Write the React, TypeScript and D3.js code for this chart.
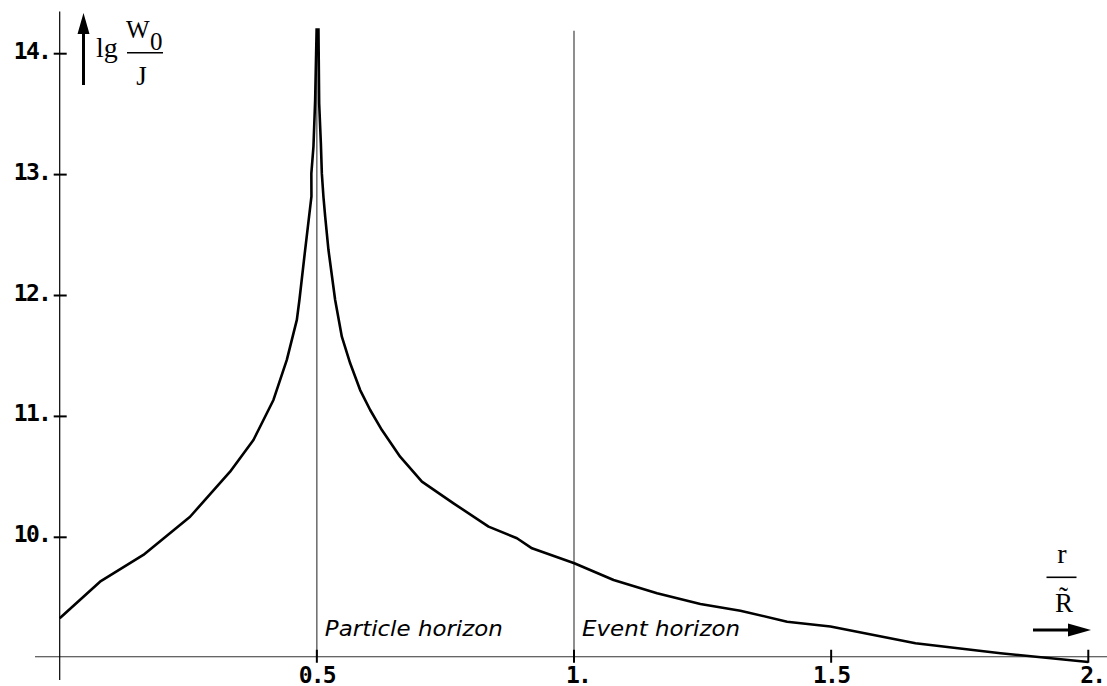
import React from "react";
import * as d3 from "d3";

const curveX = [0, 0.0784, 0.1626, 0.2535, 0.3313, 0.3767, 0.4156, 0.4416, 0.4611, 0.4661, 0.4772, 0.4895, 0.4893, 0.4934, 0.4967, 0.4996,
  0.5031, 0.5045, 0.5078, 0.5097, 0.5128, 0.5162, 0.5226, 0.5356, 0.5486, 0.5648, 0.5842, 0.6037, 0.6265, 0.6619, 0.7043, 0.7658, 0.8339, 0.8891, 0.9183, 1.0006, 1.077, 1.1615, 1.2457, 1.3235, 1.4144, 1.4986, 1.664, 1.8294, 2.0];
const curveY = [9.33, 9.633, 9.854, 10.17, 10.543, 10.805, 11.136, 11.467, 11.798, 11.963, 12.376, 12.82, 13.01, 13.231, 13.617, 14.21,
  14.21, 13.59, 13.26, 13.01, 12.817, 12.652, 12.376, 11.963, 11.659, 11.439, 11.218, 11.053, 10.887, 10.667, 10.46, 10.281, 10.088, 9.992, 9.909, 9.785, 9.647, 9.537, 9.448, 9.393, 9.302, 9.262, 9.123, 9.041, 8.969];

const yTicks = [10, 11, 12, 13, 14];
const yTickLabels = ["10.", "11.", "12.", "13.", "14."];
const xTicks = [0.5, 1, 1.5, 2];
const xTickLabels = ["0.5", "1.", "1.5", "2."];
const horizonX = [0.5, 1];
const horizonLabels = ["Particle horizon", "Event horizon"];

const axisOriginY = 9.012;
const plotTopY = 14.21;
const horizonTopY = 14.19;
const xAxisExtent = [-0.048, 2.04];
const yAxisExtent = [8.82, 14.35];

export default function App() {
  const W = 1107, H = 686;
  const x = d3.scaleLinear().domain([0, 2]).range([59.7, 1088.3]);
  const y = d3.scaleLinear().domain([9, 14]).range([658.2, 53.7]);
  const pts: [number, number][] = curveX.map((v, i) => [v, curveY[i]]);
  const line = d3.line<[number, number]>().x(d => x(d[0])).y(d => y(d[1]));
  const x0 = x(0);
  const yAx = y(axisOriginY);
  const monoStyle = { fontFamily: "'DejaVu Sans Mono', monospace", fontWeight: 700, fontSize: 23, letterSpacing: -1.8 } as const;
  const serif = "'Liberation Serif', 'Times New Roman', serif";
  return (
    <svg width={W} height={H} style={{ position: "absolute", left: 0, top: 0, display: "block", background: "#fff" }}>
      <defs>
        <clipPath id="plotclip">
          <rect x={0} y={y(plotTopY)} width={W} height={H} />
        </clipPath>
      </defs>
      {/* horizon lines */}
      {horizonX.map((h, i) => (
        <g key={i}>
          <line x1={x(h)} x2={x(h)} y1={y(horizonTopY)} y2={yAx} stroke="#444" strokeWidth={1.2} />
          <text x={x(h) + 8} y={yAx - 21} fontFamily="'DejaVu Sans', sans-serif" fontStyle="italic" fontSize={22}
            textLength={i === 0 ? 178 : 158} lengthAdjust="spacingAndGlyphs">{horizonLabels[i]}</text>
        </g>
      ))}
      {/* axes */}
      <line x1={x(xAxisExtent[0])} x2={x(xAxisExtent[1])} y1={yAx} y2={yAx} stroke="#333" strokeWidth={1.2} />
      <line x1={x0} x2={x0} y1={y(yAxisExtent[1])} y2={y(yAxisExtent[0])} stroke="#000" strokeWidth={1.2} />
      {yTicks.map((t, i) => (
        <g key={t}>
          <line x1={x0 - 6} x2={x0 + 7} y1={y(t)} y2={y(t)} stroke="#000" strokeWidth={2} />
          <text x={50} y={y(t) + 5} textAnchor="end" {...monoStyle}>{yTickLabels[i]}</text>
        </g>
      ))}
      {xTicks.map((t, i) => (
        <g key={t}>
          <line x1={x(t)} x2={x(t)} y1={yAx - 7} y2={yAx + 6} stroke="#000" strokeWidth={2} />
          <text x={x(t) + (xTickLabels[i].length === 2 ? 4 : 0)} y={yAx + 26} textAnchor="middle" {...monoStyle}>{xTickLabels[i]}</text>
        </g>
      ))}
      {/* curve */}
      <path d={line(pts) || ""} fill="none" stroke="#000" strokeWidth={2.6} strokeLinejoin="round" clipPath="url(#plotclip)" />
      {/* y axis label */}
      <line x1={83.5} x2={83.5} y1={30} y2={85} stroke="#000" strokeWidth={3} />
      <path d="M77.5,34 L83.5,13 L89.5,34 Z" fill="#000" />
      <text x={96} y={57} fontFamily={serif} fontSize={28}>lg</text>
      <text x={126} y={37.5} fontFamily={serif} fontSize={25}>W</text>
      <text x={150} y={50} fontFamily={serif} fontSize={25}>0</text>
      <line x1={127} x2={163} y1={52.7} y2={52.7} stroke="#000" strokeWidth={1.6} />
      <text x={141.5} y={85} textAnchor="middle" fontFamily={serif} fontSize={27}>J</text>
      {/* x axis label */}
      <text x={1062} y={563} textAnchor="middle" fontFamily={serif} fontSize={28}>r</text>
      <line x1={1046.5} x2={1076.5} y1={577.3} y2={577.3} stroke="#000" strokeWidth={1.6} />
      <text x={1064} y={611.5} textAnchor="middle" fontFamily={serif} fontSize={27}>{"R\u0303"}</text>
      <line x1={1033} x2={1072} y1={630} y2={630} stroke="#000" strokeWidth={3} />
      <path d="M1068,623.5 L1091,630 L1068,636.5 Z" fill="#000" />
    </svg>
  );
}
